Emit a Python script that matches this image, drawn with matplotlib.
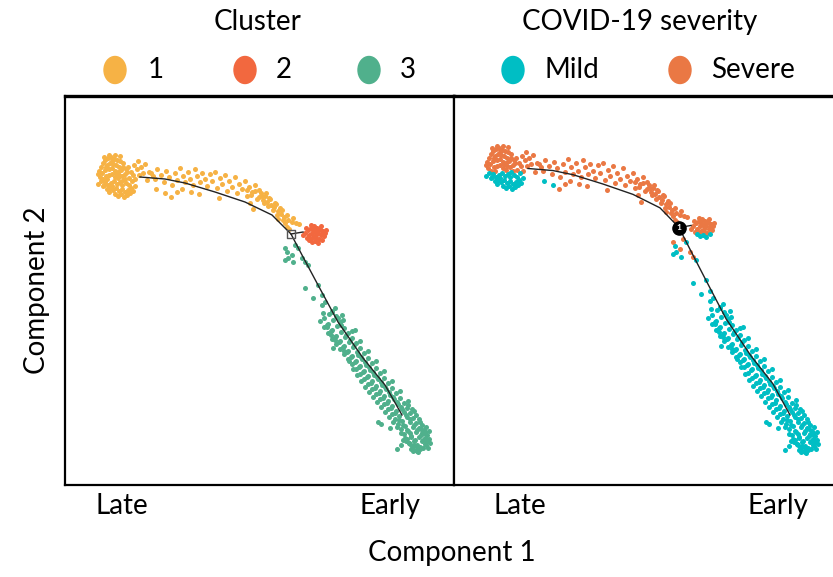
import matplotlib.pyplot as plt
from matplotlib.patches import Ellipse

plt.rcParams['font.family'] = ['Lato', 'DejaVu Sans']

# principal graph (trajectory backbone) in component space
traj_c1 = [75, 100, 120, 150, 180, 207, 226, 237, 253, 273, 289, 298, 320, 337]
traj_c2 = [308, 306, 302, 293, 283, 270, 251, 230, 200, 163, 140, 127, 100, 70]
branch_c1 = [226, 238]
branch_c2 = [251, 253]
branch_point = (226, 251)

# cluster 1, severe cells
c1_severe_x = [36, 38, 40, 43, 46, 49, 52, 55, 42, 45, 48, 51, 54, 34, 37, 40, 44, 47, 50, 53,
               56, 58, 35, 38, 41, 44, 47, 50, 53, 57, 60, 62, 64, 70,
               33, 42, 51, 54, 60, 63, 66, 68, 47, 41, 39, 44, 50, 58, 61, 55,
               72, 76, 80, 74, 78, 84, 69, 73, 82, 88,
               86, 90, 92, 96, 99, 101, 104, 107, 110, 112, 115, 118, 120, 123, 125, 128, 130,
               132, 135, 137, 140, 142, 145, 147, 150, 152, 155, 157, 160, 162, 164, 167, 170,
               172, 174, 177, 180, 182, 184, 187, 190, 192, 194, 197, 199, 201, 203, 205, 208,
               210, 212, 215, 218, 220, 222, 224,
               106, 112, 154, 185, 188, 213,
               182, 186, 190, 194, 198, 202, 206, 209, 213, 216, 219, 223, 227, 231, 234, 228,
               196, 200, 204, 211, 217, 222, 117, 126, 134]
c1_severe_y = [318, 322, 325, 327, 328, 326, 325, 324, 320, 322, 321, 320, 318, 314, 312, 315, 316, 317, 314, 313,
               315, 318, 308, 306, 309, 310, 311, 308, 307, 309, 311, 313, 307, 306,
               311, 306, 312, 310, 306, 318, 313, 310, 324, 318, 328, 330, 330, 322, 316, 329,
               316, 318, 321, 310, 312, 313, 320, 324, 305, 309,
               312, 306, 316, 310, 303, 314, 308, 300, 312, 305, 317, 309, 303, 313, 306, 300, 316,
               309, 303, 312, 306, 299, 311, 304, 313, 297, 307, 301, 310, 294, 304, 298, 308,
               292, 301, 296, 304, 289, 298, 293, 300, 286, 295, 289, 282, 292, 279, 286, 275,
               282, 270, 277, 265, 262, 258, 256,
               288, 293, 287, 282, 276, 266,
               295, 290, 294, 288, 285, 283, 280, 278, 274, 271, 268, 265, 263, 262, 261, 267,
               292, 289, 287, 281, 275, 270, 296, 293, 291]

# cluster 1, mild cells
c1_mild_x = [40, 43, 46, 49, 52, 55, 58, 61, 64, 45, 48, 51, 54, 57, 60, 63, 66, 50, 53, 56,
             59, 62, 65, 68, 70, 67, 91, 100, 38, 42, 36, 39, 47, 57, 33, 44]
c1_mild_y = [303, 300, 302, 304, 301, 303, 305, 302, 300, 297, 295, 297, 294, 296, 293, 295, 297, 291, 289, 291,
             288, 290, 292, 294, 299, 304, 296, 292, 299, 296, 304, 300, 299, 300, 301, 293]

# cluster 2
c2_severe_x = [240, 243, 246, 249, 252, 255, 258, 244, 247, 250, 253, 256, 259, 242, 245, 248,
               251, 254, 249, 246, 256, 260, 238, 261, 241, 248, 253, 257, 251]
c2_severe_y = [252, 255, 257, 258, 257, 256, 254, 250, 252, 253, 252, 250, 249, 247, 246, 248,
               247, 246, 259, 260, 259, 252, 250, 255, 257, 255, 255, 252, 250]
c2_mild_x = [250, 253, 247, 257, 244]
c2_mild_y = [244, 242, 243, 245, 245]

# cluster 3, severe cells near the branch point
c3_severe_x = [220, 227, 230, 237, 240]
c3_severe_y = [237, 230, 240, 227, 223]

# cluster 3, mild cells along the lower arm
c3_mild_x = [222, 223, 233, 243, 220, 228,
             240, 248, 253, 257, 260, 257, 267, 270, 273, 277, 268, 290,
             255, 259, 264, 267, 259, 263, 268, 271, 263, 267, 272, 275, 278,
             267, 271, 276, 279, 271, 275, 280, 283, 287, 275, 279, 284, 287,
             279, 283, 288, 291, 295, 283, 287, 292, 295, 287, 291, 296, 299, 303,
             291, 295, 300, 303, 295, 299, 304, 307, 311, 299, 303, 308, 311,
             303, 307, 312, 315, 319, 307, 311, 316, 319, 311, 315, 320, 323, 327,
             315, 319, 324, 327, 319, 323, 328, 331, 335, 323, 327, 332, 335,
             327, 331, 336, 339, 343, 330, 334, 339, 342, 333, 337, 342, 345, 349,
             336, 340, 345, 348, 339, 343, 348, 351, 355, 342, 346, 351, 354,
             345, 349, 354, 357, 360, 348, 352, 357, 360, 351, 355, 360, 362,
             313, 316, 325, 332, 346, 352, 358, 338, 344,
             262, 266, 270, 258, 276, 281, 285, 289, 279, 293, 297, 284, 301, 288, 305, 292,
             309, 296, 313, 300, 317, 304, 321, 308, 325, 312, 329, 316, 333, 320, 337, 324,
             341, 328, 345, 332, 349, 336, 352, 340, 356, 344, 358, 347, 361, 353, 363, 338,
             342, 350, 355, 346, 334, 330, 326, 322, 318, 314, 310, 306, 302, 298, 294, 290,
             286, 282, 278, 274, 270, 266, 262, 343, 347, 351, 354, 357, 359, 362, 364, 365,
             356, 359, 349, 353, 345, 341, 361, 336, 364, 348]
c3_mild_y = [233, 227, 237, 220, 225, 223,
             197, 187, 200, 190, 183, 180, 173, 177, 167, 170, 137, 155,
             164, 167, 171, 174, 158, 161, 165, 169, 152, 155, 159, 163, 165,
             146, 149, 153, 157, 141, 144, 148, 152, 154, 136, 139, 143, 147,
             131, 134, 138, 142, 144, 126, 129, 133, 137, 121, 124, 128, 132, 134,
             116, 119, 123, 127, 111, 114, 118, 122, 124, 106, 109, 113, 117,
             101, 104, 108, 112, 114, 96, 99, 103, 107, 91, 94, 98, 102, 104,
             86, 89, 93, 97, 81, 84, 88, 92, 94, 76, 79, 83, 87,
             71, 74, 78, 82, 84, 66, 69, 73, 77, 61, 64, 68, 72, 74,
             56, 59, 63, 67, 51, 54, 58, 62, 63, 46, 49, 53, 57,
             41, 44, 48, 52, 53, 38, 40, 44, 47, 35, 38, 41, 44,
             63, 61, 57, 36, 36, 34, 37, 45, 42,
             160, 150, 145, 172, 160, 150, 145, 140, 134, 130, 126, 124, 120, 116, 115, 110,
             110, 104, 106, 98, 100, 93, 96, 88, 90, 83, 86, 78, 81, 73, 76, 68,
             70, 63, 66, 58, 60, 52, 55, 47, 50, 42, 45, 37, 40, 33, 37, 60,
             55, 45, 36, 48, 65, 72, 77, 82, 87, 92, 97, 102, 108, 113, 118, 123,
             128, 133, 138, 143, 148, 154, 158, 80, 76, 70, 66, 60, 55, 50, 46, 42,
             56, 52, 40, 38, 52, 44, 58, 40, 54, 34]

xtick_pos = [[57, 325], [67, 325]]
xtick_text = ['Late', 'Early']

cluster_colors = {'1': '#F6B245', '2': '#F2683F', '3': '#50B08C'}
severity_colors = {'Mild': '#00BEC4', 'Severe': '#EA7844'}

fig = plt.figure(figsize=(8.33, 5.77), dpi=100)
W, H = 833, 577


def px_axes(x0, y0, x1, y1):
    return fig.add_axes([x0 / W, 1 - y1 / H, (x1 - x0) / W, (y1 - y0) / H])


ax_left = px_axes(65, 96, 454, 485)
ax_right = px_axes(454, 96, 841, 485)

groups = [
    ('1', 'Severe', c1_severe_x, c1_severe_y),
    ('1', 'Mild', c1_mild_x, c1_mild_y),
    ('2', 'Severe', c2_severe_x, c2_severe_y),
    ('2', 'Mild', c2_mild_x, c2_mild_y),
    ('3', 'Severe', c3_severe_x, c3_severe_y),
    ('3', 'Mild', c3_mild_x, c3_mild_y),
]

for cl, sev, xs, ys in groups:
    ax_left.scatter(xs, ys, s=13, color=cluster_colors[cl], linewidths=0, zorder=2)
    ax_right.scatter(xs, ys, s=13, color=severity_colors[sev], linewidths=0, zorder=2)

for ax in (ax_left, ax_right):
    ax.plot(traj_c1, traj_c2, color='#222222', lw=1.0, zorder=3)
    ax.plot(branch_c1, branch_c2, color='#222222', lw=1.0, zorder=3)

ax_left.scatter([branch_point[0]], [branch_point[1]], marker='s', s=40,
                facecolor='none', edgecolor='#555555', linewidths=1, zorder=4)
ax_right.scatter([branch_point[0]], [branch_point[1]], marker='o', s=90,
                 color='black', zorder=4)
ax_right.text(branch_point[0], branch_point[1], '1', color='white', fontsize=6,
              ha='center', va='center', fontweight='bold', zorder=5)

ax_left.set_xlim(0, 389)
ax_left.set_ylim(0, 389)
ax_right.set_xlim(1, 388)
ax_right.set_ylim(2.4, 378)

fs = 20

for ax, pos in zip((ax_left, ax_right), xtick_pos):
    ax.set_xticks(pos)
    ax.set_xticklabels(xtick_text, fontsize=fs)
    ax.set_yticks([])
    ax.tick_params(axis='x', length=0, pad=6)
    for side, sp in ax.spines.items():
        sp.set_linewidth(1.6)
    ax.spines['top'].set_linewidth(2.4)

ax_left.set_ylabel('Component 2', fontsize=fs, labelpad=11)
fig.text(452 / W, 1 - 553 / H, 'Component 1', fontsize=fs, ha='center', va='center')

# legends drawn on a pixel-space overlay
ov = fig.add_axes([0, 0, 1, 1], zorder=10)
ov.set_xlim(0, W)
ov.set_ylim(H, 0)
ov.axis('off')

ov.text(258, 22, 'Cluster', fontsize=fs, ha='center', va='center')
ov.text(640, 22, 'COVID-19 severity', fontsize=fs, ha='center', va='center')

legend_items = [
    (115, 148, '1', cluster_colors['1']),
    (245, 276, '2', cluster_colors['2']),
    (369, 400, '3', cluster_colors['3']),
    (513, 545, 'Mild', severity_colors['Mild']),
    (680, 711, 'Severe', severity_colors['Severe']),
]
for ex, tx, label, col in legend_items:
    ov.add_patch(Ellipse((ex, 70), 22, 27, color=col))
    ov.text(tx, 70, label, fontsize=fs, ha='left', va='center')

fig.savefig('out.png', dpi=100)
